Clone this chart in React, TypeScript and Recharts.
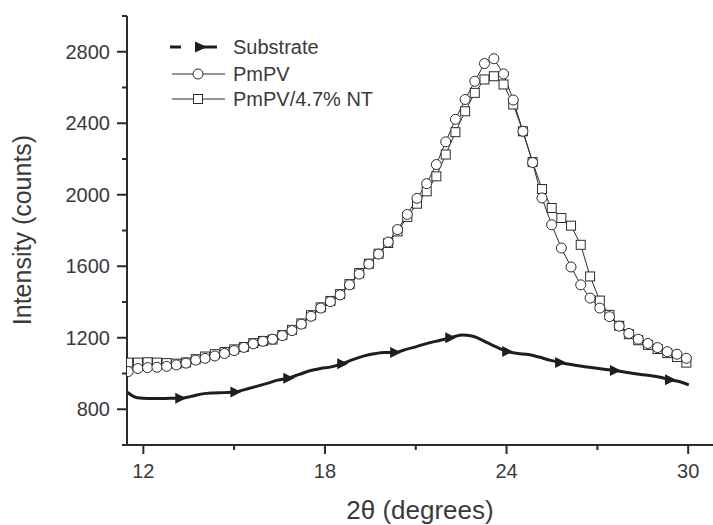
import { LineChart, Line, XAxis, YAxis, Legend } from "recharts"

// 2-theta grid of the two film scans
const angles = [
  11.5, 11.82, 12.14, 12.45, 12.77, 13.09, 13.41, 13.73, 14.04, 14.36,
  14.68, 15.0, 15.32, 15.63, 15.95, 16.27, 16.59, 16.91, 17.22, 17.54,
  17.86, 18.18, 18.5, 18.81, 19.13, 19.45, 19.77, 20.09, 20.4, 20.72,
  21.04, 21.36, 21.68, 21.99, 22.31, 22.63, 22.95, 23.27, 23.58, 23.9,
  24.22, 24.54, 24.86, 25.17, 25.49, 25.81, 26.13, 26.45, 26.76, 27.08,
  27.4, 27.72, 28.04, 28.35, 28.67, 28.99, 29.31, 29.63, 29.94,
]

const pmpv = [
  1011, 1028, 1033, 1035, 1040, 1048, 1058, 1075, 1085, 1098,
  1112, 1128, 1146, 1166, 1180, 1192, 1212, 1240, 1276, 1320,
  1366, 1402, 1440, 1496, 1556, 1612, 1668, 1735, 1805, 1890,
  1980, 2062, 2169, 2296, 2422, 2533, 2635, 2734, 2761, 2676,
  2530, 2355, 2180, 1982, 1832, 1702, 1596, 1496, 1422, 1366,
  1318, 1265, 1224, 1192, 1168, 1145, 1122, 1108, 1085,
]

const pmpvNT = [
  1061, 1061, 1063, 1061, 1058, 1055, 1062, 1080, 1095, 1108,
  1120, 1135, 1148, 1170, 1182, 1190, 1215, 1244, 1280, 1326,
  1370, 1406, 1444, 1500, 1562, 1614, 1670, 1730, 1795, 1876,
  1950, 2019, 2103, 2225, 2350, 2467, 2570, 2645, 2663, 2617,
  2505, 2355, 2183, 2032, 1926, 1870, 1827, 1720, 1543, 1408,
  1328, 1267, 1220, 1186, 1160, 1137, 1114, 1092, 1061,
]

// substrate scan has its own grid, symbol on every 5th point
const substrateAngles = [
  11.47, 11.8, 12.15, 12.5, 12.86, 13.22, 13.58, 13.95, 14.31, 14.68,
  15.04, 15.39, 15.74, 16.09, 16.44, 16.79, 17.15, 17.5, 17.86, 18.21,
  18.57, 18.92, 19.27, 19.62, 19.97, 20.32, 20.68, 21.05, 21.41, 21.78,
  22.14, 22.52, 22.89, 23.27, 23.64, 24.02, 24.37, 24.72, 25.07, 25.42,
  25.77, 26.13, 26.49, 26.86, 27.22, 27.58, 27.94, 28.31, 28.67, 29.04,
  29.4, 29.7, 30.02,
]

const substrate = [
  895, 864, 860, 860, 861, 862, 872, 886, 891, 893,
  897, 912, 928, 945, 963, 974, 995, 1015, 1028, 1037,
  1055, 1078, 1097, 1110, 1117, 1117, 1135, 1152, 1170, 1185,
  1200, 1215, 1208, 1180, 1150, 1123, 1112, 1106, 1092, 1075,
  1062, 1050, 1040, 1032, 1024, 1017, 1007, 997, 990, 980,
  965, 955, 936,
]

const xTicks = [12, 15, 18, 21, 24, 27, 30]
const xLabelled = [12, 18, 24, 30]
const yTicks = [600, 800, 1000, 1200, 1400, 1600, 1800, 2000, 2200, 2400, 2600, 2800, 3000]

const pmpvData = angles.map((x, i) => ({ x, y: pmpv[i] }))
const ntData = angles.map((x, i) => ({ x, y: pmpvNT[i] }))
const substrateData = substrateAngles.map((x, i) => ({ x, y: substrate[i] }))

const INK = "#2b2b2b"
const TEXT = "#3a3a3a"
const FONT = "'Liberation Sans', Arial, sans-serif"

const CircleDot = (props: any) => {
  const { cx, cy, index } = props
  if (cx == null || cy == null) return <g key={index} />
  return <circle key={index} cx={cx} cy={cy} r={5} fill="#fff" stroke={INK} strokeWidth={1} />
}

const SquareDot = (props: any) => {
  const { cx, cy, index } = props
  if (cx == null || cy == null) return <g key={index} />
  return <rect key={index} x={cx - 4.5} y={cy - 4.5} width={9} height={9} fill="#fff" stroke={INK} strokeWidth={1} />
}

const TriangleDot = (props: any) => {
  const { cx, cy, index } = props
  if (cx == null || cy == null || index === 0 || index % 5 !== 0) return <g key={index} />
  return (
    <path
      key={index}
      d={`M${cx - 5},${cy - 5.5} L${cx + 6},${cy} L${cx - 5},${cy + 5.5} Z`}
      fill="#1e1e1e"
    />
  )
}

const XTick = (props: any) => {
  const { x, y, payload } = props
  const major = xLabelled.includes(payload.value)
  return (
    <g>
      <line x1={x} x2={x} y1={y} y2={y + (major ? 9 : 5)} stroke={INK} strokeWidth={2} />
      {major && (
        <text x={x} y={y + 33} textAnchor="middle" fontSize={20} fontFamily={FONT} fill={TEXT}>
          {payload.value}
        </text>
      )}
    </g>
  )
}

const YTick = (props: any) => {
  const { x, y, payload } = props
  const v = payload.value
  const major = v % 400 === 0 && v >= 800 && v <= 2800
  return (
    <g>
      <line x1={x} x2={x - (major ? 10 : 5)} y1={y} y2={y} stroke={INK} strokeWidth={2} />
      {major && (
        <text x={x - 17} y={y} dy="0.35em" textAnchor="end" fontSize={20} fontFamily={FONT} fill={TEXT}>
          {v}
        </text>
      )}
    </g>
  )
}

const LegendBox = () => (
  <svg width={240} height={80} style={{ display: "block" }}>
    <g fontFamily={FONT} fontSize={20} fill={TEXT}>
      <line x1={5} x2={16} y1={14} y2={14} stroke="#1e1e1e" strokeWidth={3} />
      <line x1={30} x2={52} y1={14} y2={14} stroke="#1e1e1e" strokeWidth={3} />
      <path d="M30,8.5 L42,14 L30,19.5 Z" fill="#1e1e1e" />
      <text x={68} y={14} dy="0.35em">Substrate</text>

      <line x1={7} x2={60} y1={41} y2={41} stroke={INK} strokeWidth={1} />
      <circle cx={33} cy={41} r={5} fill="#fff" stroke={INK} strokeWidth={1} />
      <text x={68} y={41} dy="0.35em">PmPV</text>

      <line x1={7} x2={60} y1={66} y2={66} stroke={INK} strokeWidth={1} />
      <rect x={28.5} y={61.5} width={9} height={9} fill="#fff" stroke={INK} strokeWidth={1} />
      <text x={68} y={66} dy="0.35em">PmPV/4.7% NT</text>
    </g>
  </svg>
)

export default function App() {
  return (
    <div style={{ position: "absolute", left: 0, top: 0, width: 713, height: 525, background: "#fff" }}>
      <LineChart width={713} height={525} margin={{ top: 16, right: 0, bottom: 50, left: 0 }}>
        <XAxis
          type="number"
          dataKey="x"
          domain={[11.46, 30.82]}
          ticks={xTicks}
          interval={0}
          allowDataOverflow
          height={30}
          tickSize={0}
          tickMargin={0}
          tickLine={false}
          axisLine={{ stroke: INK, strokeWidth: 2 }}
          tick={<XTick />}
          label={{
            content: () => (
              <text x={420} y={519} textAnchor="middle" fontSize={26} fontFamily={FONT} fill={TEXT}>
                2θ (degrees)
              </text>
            ),
          }}
        />
        <YAxis
          type="number"
          domain={[600, 3000]}
          ticks={yTicks}
          interval={0}
          allowDataOverflow
          width={127}
          tickSize={0}
          tickMargin={0}
          tickLine={false}
          axisLine={{ stroke: INK, strokeWidth: 2 }}
          tick={<YTick />}
          label={{
            content: () => (
              <text
                x={31}
                y={230}
                transform="rotate(-90, 31, 230)"
                textAnchor="middle"
                fontSize={25}
                fontFamily={FONT}
                fill={TEXT}
              >
                Intensity (counts)
              </text>
            ),
          }}
        />
        {/* horizontal + middle keeps the legend from eating plot space */}
        <Legend
          verticalAlign="middle"
          align="center"
          layout="horizontal"
          content={<LegendBox />}
          wrapperStyle={{ position: "absolute", left: 165, top: 33, width: 240, height: 80 }}
        />
        <Line
          data={substrateData}
          dataKey="y"
          type="monotone"
          stroke="#1e1e1e"
          strokeWidth={3}
          dot={TriangleDot}
          activeDot={false}
          isAnimationActive={false}
        />
        <Line
          data={ntData}
          dataKey="y"
          type="linear"
          stroke={INK}
          strokeWidth={1}
          dot={SquareDot}
          activeDot={false}
          isAnimationActive={false}
        />
        <Line
          data={pmpvData}
          dataKey="y"
          type="linear"
          stroke={INK}
          strokeWidth={1}
          dot={CircleDot}
          activeDot={false}
          isAnimationActive={false}
        />
      </LineChart>
    </div>
  )
}
